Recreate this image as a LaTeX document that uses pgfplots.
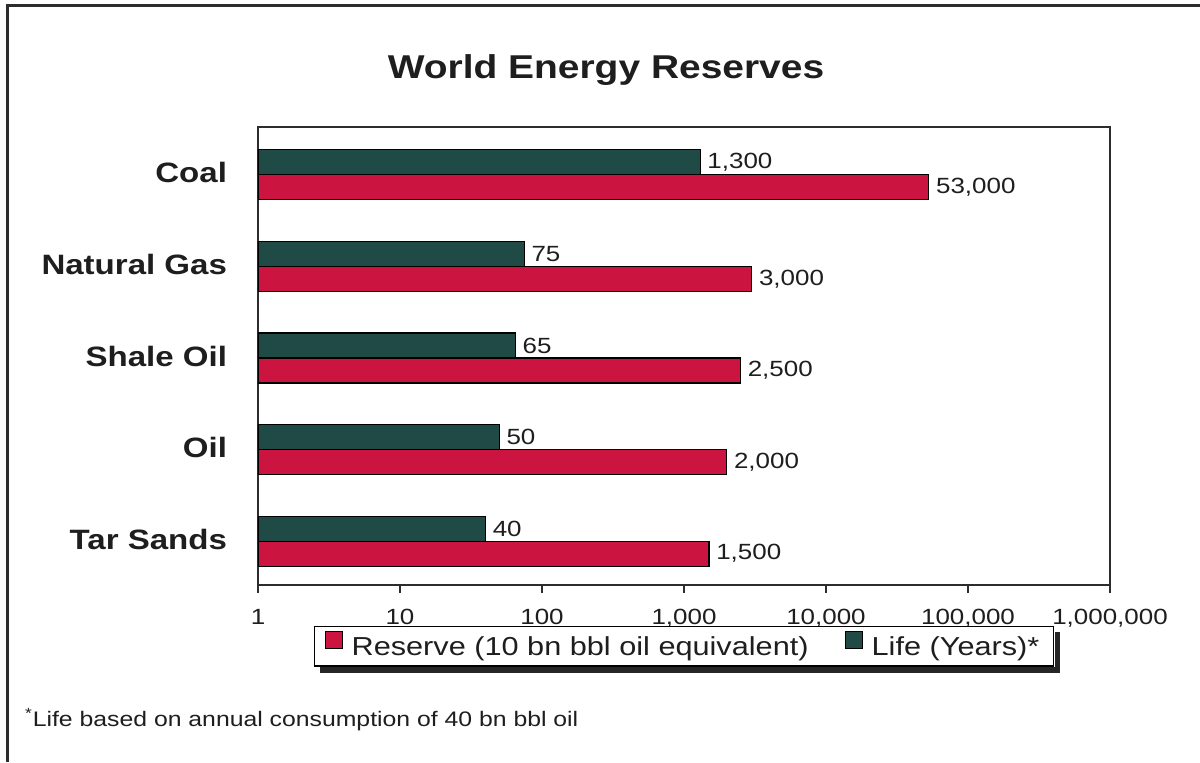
\documentclass[border=0pt]{standalone}
\usepackage{fontspec}
\setmainfont{Liberation Sans}[FakeStretch=1.18]
\usepackage{pgfplots}
\usepackage{pgfplotstable}
\pgfplotsset{compat=1.18}

\definecolor{reservered}{RGB}{204,20,64}
\definecolor{lifeteal}{RGB}{32,74,70}
\definecolor{framegray}{RGB}{45,45,45}
\definecolor{inkgray}{RGB}{30,30,30}

% y: 0 = Tar Sands ... 4 = Coal
\pgfplotstableread{
y reserve life
0 1500  40
1 2000  50
2 2500  65
3 3000  75
4 53000 1300
}\energy

\begin{document}
\begin{tikzpicture}[x=1pt,y=1pt]
\useasboundingbox (0,0) rectangle (600,381);
\fill[white] (0,0) rectangle (600,381);
\draw[framegray, line width=1.5pt] (3.5,0) -- (3.5,378) -- (600,378);
\node[font=\fontsize{16.5}{19}\selectfont\bfseries, text=inkgray] at (303,346) {World Energy Reserves};
\node[anchor=west, font=\fontsize{10.5}{12}\selectfont, text=inkgray] at (9,21)
  {\textsuperscript{*}Life based on annual consumption of 40 bn bbl oil};
\begin{axis}[
  at={(129pt,88.5pt)}, anchor=south west,
  width=426pt, height=229pt, scale only axis,
  xmode=log, log basis x=10,
  xmin=1, xmax=1000000,
  ymin=-0.5, ymax=4.5,
  xbar, bar width=12.5pt,
  xtick={1,10,100,1000,10000,100000,1000000},
  xticklabels={1,10,100,{1,000},{10,000},{100,000},{1,000,000}},
  xminorticks=false,
  xtick pos=bottom, tick align=outside, major tick length=4pt,
  ytick={0,1,2,3,4},
  yticklabels={Tar Sands,Oil,Shale Oil,Natural Gas,Coal},
  ytick style={draw=none},
  yticklabel style={font=\fontsize{14}{16}\selectfont\bfseries, text=inkgray, xshift=-8pt},
  xticklabel style={font=\fontsize{11}{13}\selectfont, text=inkgray, yshift=-4.5pt},
  axis line style={framegray, line width=0.6pt},
  tick style={framegray, line width=0.6pt},
  /pgf/number format/fixed,
  /pgf/number format/precision=0,
  /pgf/number format/1000 sep={,},
  /pgf/number format/assume math mode=true,
  nodes near coords, point meta=rawx,
  nodes near coords style={font=\fontsize{11}{13}\selectfont, text=inkgray, anchor=west},
  legend columns=2,
  legend style={name=leg, at={(0.5,-0.134)}, anchor=center, draw=black, line width=0.7pt,
    font=\fontsize{13}{15}\selectfont, text=inkgray,
    fill=white, inner xsep=5pt, inner ysep=2pt,
    /tikz/every odd column/.append style={column sep=2.5pt},
    /tikz/every even column/.append style={column sep=16pt}},
  legend image code/.code={\draw[#1, line width=0.5pt] (0pt,-0.5pt) rectangle (8.5pt,8pt);},
]
\addplot[draw=black, line width=0.6pt, fill=reservered, bar shift=-7.25pt]
  table[x=reserve, y=y] {\energy};
\addplot[draw=black, line width=0.6pt, fill=lifeteal, bar shift=5.25pt]
  table[x=life, y=y] {\energy};
\legend{Reserve (10 bn bbl oil equivalent), Life (Years)*}
\end{axis}
% shadow strips along the right and bottom edges of the legend box
\fill[black!85] ([xshift=0.35pt,yshift=-3pt]leg.north east) rectangle ([xshift=3pt,yshift=-3pt]leg.south east);
\fill[black!85] ([xshift=3pt,yshift=-0.35pt]leg.south west) rectangle ([xshift=3pt,yshift=-3pt]leg.south east);
\end{tikzpicture}
\end{document}
